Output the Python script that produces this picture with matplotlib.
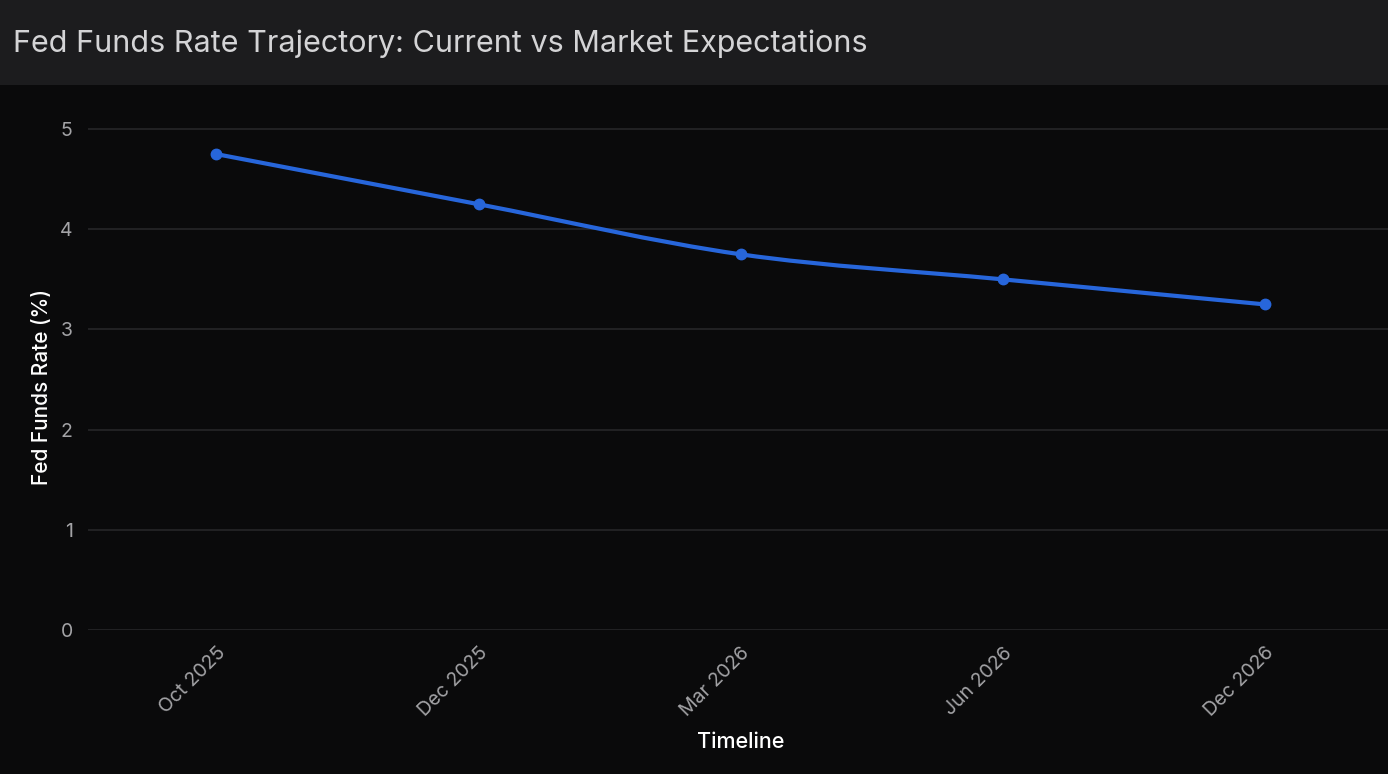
import matplotlib
matplotlib.use('Agg')
import matplotlib.pyplot as plt
from matplotlib.path import Path
from matplotlib.patches import PathPatch, Rectangle
import numpy as np

plt.rcParams['font.family'] = ['Inter', 'DejaVu Sans']

# data
dates = ['Oct 2025', 'Dec 2025', 'Mar 2026', 'Jun 2026', 'Dec 2026']
rates = [4.75, 4.25, 3.75, 3.5, 3.25]
y_ticks = [0, 1, 2, 3, 4, 5]

BG = '#0a0a0b'
HEADER = '#1c1c1e'
GRID = '#262628'
BLUE = '#2766db'


def monotone_path(xs, ys):
    # monotone-x cubic, same construction as d3.curveMonotoneX
    xs = np.asarray(xs, float)
    ys = np.asarray(ys, float)
    n = len(xs)
    s = np.diff(ys) / np.diff(xs)
    h = np.diff(xs)
    t = np.zeros(n)
    for i in range(1, n - 1):
        p = (s[i - 1] * h[i] + s[i] * h[i - 1]) / (h[i - 1] + h[i])
        t[i] = (np.sign(s[i - 1]) + np.sign(s[i])) * min(abs(s[i - 1]), abs(s[i]), 0.5 * abs(p))
    t[0] = (3 * s[0] - t[1]) / 2
    t[-1] = (3 * s[-1] - t[-2]) / 2
    verts = [(xs[0], ys[0])]
    codes = [Path.MOVETO]
    for i in range(n - 1):
        dx = (xs[i + 1] - xs[i]) / 3
        verts += [(xs[i] + dx, ys[i] + dx * t[i]),
                  (xs[i + 1] - dx, ys[i + 1] - dx * t[i + 1]),
                  (xs[i + 1], ys[i + 1])]
        codes += [Path.CURVE4] * 3
    return Path(verts, codes)


fig = plt.figure(figsize=(13.88, 7.74), dpi=100, facecolor=BG)
ax = fig.add_axes([88 / 1388, 1 - 630 / 774, 1 - 88 / 1388, (630 - 85) / 774])
ax.set_facecolor(BG)

# title bar
fig.patches.append(Rectangle((0, 1 - 85 / 774), 1, 85 / 774, transform=fig.transFigure,
                             facecolor=HEADER, edgecolor='none', zorder=0))
fig.text(13 / 1388, 1 - 44 / 774, 'Fed Funds Rate Trajectory: Current vs Market Expectations',
         color='#d4d4d6', fontsize=22, ha='left', va='center')

x = np.arange(len(dates))
ax.add_patch(PathPatch(monotone_path(x, rates), facecolor='none', edgecolor=BLUE,
                       lw=3, capstyle='round', joinstyle='round', zorder=3))
ax.plot(x, rates, 'o', color=BLUE, markersize=7.5, zorder=4)

ax.set_xlim(-0.49, 4.47)
ax.set_ylim(0, 5.44)
ax.set_yticks(y_ticks)
ax.set_xticks(x)
ax.set_xticklabels(dates, rotation=45, ha='right', rotation_mode='anchor')
ax.tick_params(axis='both', length=0, colors='#a3a3a6', labelsize=14)
ax.tick_params(axis='y', pad=11)
ax.tick_params(axis='x', pad=10)
ax.grid(axis='y', color=GRID, lw=1.2)
ax.set_axisbelow(True)
for sp in ax.spines.values():
    sp.set_visible(False)

ax.set_xlabel('Timeline', color='white', fontsize=15.5, fontweight='medium')
ax.set_ylabel('Fed Funds Rate (%)', color='white', fontsize=15, fontweight='medium')
ax.xaxis.set_label_coords(0.502, -0.188)
ax.yaxis.set_label_coords(-0.028, 0.446)

fig.savefig('out.png', dpi=100, facecolor=BG)
